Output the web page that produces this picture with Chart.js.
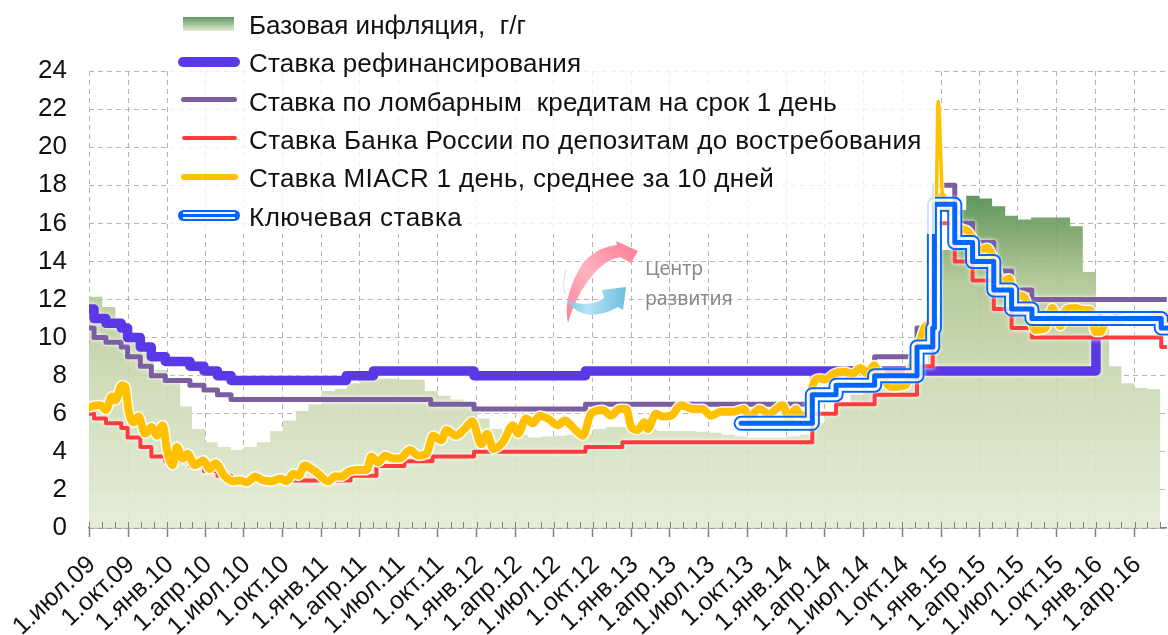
<!DOCTYPE html>
<html lang="ru"><head><meta charset="utf-8">
<script src="https://cdn.jsdelivr.net/npm/chart.js@4"></script>
<style>
html,body{margin:0;padding:0;background:#fff;width:1168px;height:635px;overflow:hidden}
#wrap{position:relative;width:1168px;height:635px;font-family:"Liberation Sans",Arial,sans-serif}
canvas#c{position:absolute;left:0;top:0}
#legend{position:absolute;left:170px;top:8px;width:765px;height:226px;background:rgba(255,255,255,.8)}
.t{position:absolute;left:79px;font-size:26px;letter-spacing:.33px;line-height:26px;height:26px;color:#111;white-space:pre}
.s{position:absolute;border-radius:6px}
#logo{position:absolute;left:0;top:0}
.lg{position:absolute;left:645px;font-family:"Noto Sans",sans-serif;font-size:19.5px;line-height:24px;color:#8a8a8a}
</style></head><body>
<div id="wrap">
<canvas id="c" width="1168" height="635"></canvas>
<svg id="logo" width="1168" height="635">
 <defs><linearGradient id="pk" x1="0" y1="1" x2="1" y2="0"><stop offset="0" stop-color="#ff7f96"/><stop offset=".45" stop-color="#ffb3c0"/><stop offset="1" stop-color="#ff7a92"/></linearGradient>
 <linearGradient id="bl" x1="0" y1="0" x2="1" y2="0"><stop offset="0" stop-color="#7cc8e2"/><stop offset=".35" stop-color="#b5e3f2"/><stop offset="1" stop-color="#6fbfde"/></linearGradient></defs>
 <path d="M568 323 Q562 296 583 263 Q597 247 617 245 L616 241 L638 251 L631 263 L620 257 Q604 260 592 276 Q577 293 568 323Z" fill="url(#pk)"/>
 <path d="M567 301 Q590 308 604 298 L602 290 L626 287 L623 310 L618 307 Q604 315 590 315 Q575 313 567 301Z" fill="url(#bl)"/>
 <path d="M566 270 Q562 282 565 294" fill="none" stroke="#bfe3f0" stroke-width="1"/>
</svg>
<div class="lg" style="top:256px">Центр</div>
<div class="lg" style="top:286px">развития</div>
<div id="legend">
 <div class="s" style="left:13px;top:9px;width:51px;height:14px;border-radius:0;background:linear-gradient(#5f9660,#e2ebd4)"></div>
 <div class="t" style="top:4px;letter-spacing:0">Базовая инфляция,  г/г</div>
 <div class="s" style="left:8px;top:49px;width:62px;height:10px;background:#5a38e6"></div>
 <div class="t" style="top:42px;letter-spacing:.2px">Ставка рефинансирования</div>
 <div class="s" style="left:11px;top:89px;width:56px;height:5px;background:#7b5ea0"></div>
 <div class="t" style="top:81px;letter-spacing:.17px">Ставка по ломбарным  кредитам на срок 1 день</div>
 <div class="s" style="left:12px;top:128px;width:55px;height:4px;background:#ff3b3b"></div>
 <div class="t" style="top:119px;letter-spacing:.37px">Ставка Банка России по депозитам до востребования</div>
 <div class="s" style="left:11px;top:166px;width:57px;height:6px;background:#ffc000"></div>
 <div class="t" style="top:157px">Ставка MIACR 1 день, среднее за 10 дней</div>
 <div class="s" style="left:8px;top:202px;width:62px;height:11px;background:#0066ff"></div>
 <div class="s" style="left:13px;top:204px;width:52px;height:2px;border-radius:0;background:#e8f2ff"></div>
 <div class="s" style="left:13px;top:209px;width:52px;height:2px;border-radius:0;background:#e8f2ff"></div>
 <div class="t" style="top:196px;letter-spacing:.5px">Ключевая ставка</div>
</div>
</div>
<script>
// ---- data ----
const quarterDates = ['2009-07-01','2009-10-01','2010-01-01','2010-04-01','2010-07-01','2010-10-01','2011-01-01','2011-04-01','2011-07-01','2011-10-01','2012-01-01','2012-04-01','2012-07-01','2012-10-01','2013-01-01','2013-04-01','2013-07-01','2013-10-01','2014-01-01','2014-04-01','2014-07-01','2014-10-01','2015-01-01','2015-04-01','2015-07-01','2015-10-01','2016-01-01','2016-04-01'];
const quarterLabels = ['1.июл.09','1.окт.09','1.янв.10','1.апр.10','1.июл.10','1.окт.10','1.янв.11','1.апр.11','1.июл.11','1.окт.11','1.янв.12','1.апр.12','1.июл.12','1.окт.12','1.янв.13','1.апр.13','1.июл.13','1.окт.13','1.янв.14','1.апр.14','1.июл.14','1.окт.14','1.янв.15','1.апр.15','1.июл.15','1.окт.15','1.янв.16','1.апр.16'];
const inflationStart = '2009-07-01';
const inflationMonthly = [12.15,11.6,10.5,9.9,9.3,8.3,7.8,6.4,5.2,4.5,4.25,4.1,4.25,4.5,5.1,5.65,6.15,6.5,7.2,7.3,7.6,7.8,7.85,7.85,7.8,7.8,7.2,6.95,6.75,6.6,5.75,5.2,4.9,4.9,4.75,4.8,4.85,4.9,4.95,5.2,5.3,5.3,5.3,5.2,5.1,5.1,5.1,5.05,5.0,4.9,4.8,4.75,4.75,4.75,4.8,4.9,5.5,6.0,6.5,7.0,7.2,7.3,7.4,7.6,8.3,11.2,14.6,16.7,17.45,17.3,16.9,16.4,16.2,16.3,16.3,16.3,15.85,13.45,10.5,8.5,7.6,7.35,7.3];

const refiDates = ['2009-07-01','2009-07-13','2009-08-10','2009-09-15','2009-09-30','2009-10-30','2009-11-25','2009-12-28','2010-02-24','2010-03-29','2010-04-30','2010-06-01','2011-02-28','2011-05-03','2011-12-26','2012-09-14','2016-01-01','2016-06-18'];
const refiValues = [11.5,11,10.75,10.5,10,9.5,9,8.75,8.5,8.25,8,7.75,8,8.25,8,8.25,11,11];

const lombardDates = ['2009-07-01','2009-07-13','2009-08-10','2009-09-15','2009-09-30','2009-10-30','2009-11-25','2009-12-28','2010-02-24','2010-03-29','2010-04-30','2010-06-01','2011-09-15','2011-12-26','2012-09-14','2014-03-03','2014-04-28','2014-07-28','2014-11-05','2014-12-12','2014-12-16','2015-02-02','2015-03-16','2015-05-05','2015-06-16','2015-08-03','2016-06-18'];
const lombardValues = [10.5,10,9.75,9.5,9,8.5,8,7.75,7.5,7.25,7,6.75,6.5,6.25,6.5,8,8.3,9,10.5,11.5,18,16,15,13.5,12.5,12,12];

const depositDates = ['2009-07-01','2009-07-13','2009-08-10','2009-09-15','2009-09-30','2009-10-30','2009-11-25','2009-12-28','2010-02-24','2010-03-29','2010-04-30','2010-06-01','2011-03-10','2011-05-10','2011-07-15','2011-09-19','2011-12-26','2012-09-14','2012-12-10','2014-03-03','2014-04-28','2014-07-28','2014-11-05','2014-12-12','2014-12-16','2015-02-02','2015-03-16','2015-05-05','2015-06-16','2015-08-03','2016-06-03','2016-06-18'];
const depositValues = [6,5.75,5.5,5.25,4.75,4.25,3.75,3.5,3.25,3,2.75,2.5,2.75,3.25,3.5,3.75,4,4.25,4.5,6,6.5,7,8.5,9.5,16,14,13,11.5,10.5,10,9.5,9.5];

const keyDates = ['2013-09-16','2014-03-03','2014-04-28','2014-07-28','2014-11-05','2014-12-12','2014-12-16','2015-02-02','2015-03-16','2015-05-05','2015-06-16','2015-08-03','2016-06-03','2016-06-18'];
const keyValues = [5.5,7,7.5,8,9.5,10.5,17,15,14,12.5,11.5,11,10.5,10.5];

const miacrDayOffsets = [3,19,27,40,54,62,78,86,93,105,117,132,148,160,174,184,197,207,221,232,250,270,284,298,321,341,356,372,392,411,431,451,466,482,494,509,525,541,564,580,596,611,631,655,666,682,698,717,733,757,776,796,812,831,843,866,886,904,925,939,954,976,1000,1012,1031,1047,1063,1082,1106,1122,1145,1165,1184,1212,1231,1251,1267,1279,1294,1310,1318,1337,1353,1373,1396,1424,1447,1467,1491,1518,1545,1557,1581,1604,1636,1651,1667,1675,1687,1699,1706,1722,1738,1757,1781,1801,1820,1836,1852,1864,1895,1926,1942,1950,1962,1973,1985,1997,2003,2013,2020,2036,2052,2072,2087,2099,2119,2134,2154,2170,2181,2205,2217,2232,2256,2272,2291,2303,2327,2346,2362,2374,2386,2401,2421,2452,2491,2515,2539];
const miacrValues = [6.35,6.45,6.45,6.2,6.9,6.7,7.5,7.4,6.2,5.55,5.85,4.95,5.3,4.85,5.4,4.1,3.3,4.25,3.65,3.9,3.3,3.55,3.1,3.4,2.7,2.45,2.5,2.4,2.7,2.5,2.45,2.6,2.45,2.85,2.75,3.3,3.1,2.85,2.45,2.7,2.7,2.95,3.05,3.05,3.75,3.45,3.8,3.65,3.65,4.1,3.8,3.9,4.85,4.6,5.15,4.85,5.2,5.6,4.4,4.95,4.15,4.5,5.4,4.95,5.75,5.5,5.9,5.75,5.4,5.65,5.2,4.85,6.0,6.2,5.9,6.25,6.25,5.3,5.15,5.55,5.2,6.0,5.85,5.9,6.45,6.25,6.25,5.9,6.1,6.1,6.25,5.85,6.25,6.0,6.45,5.75,6.25,6.0,5.9,6.0,7.4,7.85,7.8,8.1,8.2,8.1,8.4,8.1,8.55,8.1,7.4,7.5,8.6,9.4,9.95,10.6,10.9,14.8,22.4,17.4,16.9,16.5,15.8,15.6,15.1,14.6,14.7,14.1,12.85,13.1,12.3,12.15,11.45,10.4,10.5,11.55,10.6,11.45,11.55,11.45,11.45,10.3,10.3,11.0,10.85,11.0,11.0,11.1,11.1];
const yTicksMax = 24, yTickStep = 2;

// ---- helpers ----
const base = Date.parse(inflationStart);
const dayOf = s => Math.round((Date.parse(s) - base) / 864e5);
const pts = (ds, vs) => ds.map((d, i) => ({x: dayOf(d), y: vs[i]}));
const addMonths = n => { const y = 2009 + Math.floor((6 + n) / 12), m = (6 + n) % 12;
  return `${y}-${String(m + 1).padStart(2, '0')}-01`; };
const inflationPts = inflationMonthly.map((v, i) => ({x: dayOf(addMonths(i)), y: v}));
inflationPts.push({x: dayOf(addMonths(inflationMonthly.length)), y: inflationMonthly[inflationMonthly.length - 1]});
const quarterDays = quarterDates.map(dayOf);
const monthDays = []; for (let i = 0; i < 84; i++) monthDays.push(dayOf(addMonths(i)));

let grad = null;
function areaFill(ctx) {
  const ch = ctx.chart; if (!ch.chartArea) return '#cfdbb8';
  if (!grad) {
    const y = ch.scales.y;
    grad = ch.ctx.createLinearGradient(0, y.getPixelForValue(17.5), 0, y.getPixelForValue(0));
    grad.addColorStop(0, '#4f8b4ee8'); grad.addColorStop(.13, '#7fa76be8'); grad.addColorStop(.26, '#aec592e8');
    grad.addColorStop(.55, '#cbd8b2e8'); grad.addColorStop(1, '#e3ecd5e8');
  }
  return grad;
}
const line = (data, color, width, order, extra) => Object.assign({data, borderColor: color, borderWidth: width, order,
  pointRadius: 0, stepped: 'before', fill: false, borderCapStyle: 'round', borderJoinStyle: 'round', halo: true}, extra || {});
const keyPts = pts(keyDates, keyValues);
const miacrPts = miacrDayOffsets.map((d, i) => ({x: d, y: miacrValues[i]}));
const isSpike = c => c.p0.parsed.y > 18 || c.p1.parsed.y > 18;

let off = null;
const haloPlugin = {
  id: 'halo',
  beforeDatasetDraw(chart, args) {
    const ds = chart.data.datasets[args.index];
    if (ds.keyPart) {
      if (ds.keyPart === 'outer') { off = document.createElement('canvas'); off.width = chart.width; off.height = chart.height; }
      const c = off.getContext('2d');
      c.globalCompositeOperation = ds.keyComp || 'source-over';
      args.meta.dataset.draw(c, chart.chartArea);
      if (ds.keyPart === 'center') {
        const m = chart.ctx; m.save(); m.shadowColor = 'rgba(255,255,255,.9)'; m.shadowBlur = 3;
        m.drawImage(off, 0, 0); m.restore();
      }
      return false;
    }
    if (ds.halo) { const m = chart.ctx; m.save(); m.shadowColor = '#fff'; m.shadowBlur = 4; }
  },
  afterDatasetDraw(chart, args) {
    const ds = chart.data.datasets[args.index];
    if (ds.halo && !ds.keyPart) chart.ctx.restore();
  },
  afterDatasetsDraw(chart) {
    const m = chart.ctx, x = chart.scales.x, b = chart.chartArea.bottom;
    m.save(); m.strokeStyle = '#808080'; m.lineWidth = 1; m.beginPath();
    monthDays.forEach(d => { const p = Math.round(x.getPixelForValue(d)) + .5; m.moveTo(p, b); m.lineTo(p, b - 6); });
    m.stroke(); m.restore();
  }
};

new Chart(document.getElementById('c'), {
  type: 'line',
  data: { datasets: [
    {data: inflationPts, stepped: 'before', pointRadius: 0, borderWidth: 0, fill: 'origin', backgroundColor: areaFill, order: 20},
    line(pts(lombardDates, lombardValues), '#7b5ea0', 5, 16),
    line(pts(refiDates, refiValues), '#5a38e6', 9.5, 15),
    line(pts(depositDates, depositValues), '#ff3b3b', 4, 13),
    line(miacrPts, 'rgba(255,255,255,.92)', 11, 12, {stepped: false, cubicInterpolationMode: 'monotone', halo: false,
      segment: {borderWidth: c => isSpike(c) ? 5 : undefined}}),
    line(miacrPts, '#ffc000', 8, 11, {stepped: false, cubicInterpolationMode: 'monotone', halo: false,
      segment: {borderWidth: c => isSpike(c) ? 3.5 : undefined}}),
    line(keyPts, '#0066ff', 15, 4, {keyPart: 'outer'}),
    line(keyPts, '#000', 11, 3, {keyPart: 'gap', keyComp: 'destination-out'}),
    line(keyPts, 'rgba(255,255,255,.5)', 11, 2, {keyPart: 'veil'}),
    line(keyPts, '#0066ff', 5, 1, {keyPart: 'center'})
  ]},
  options: {
    responsive: false, animation: false, events: [],
    layout: {padding: {top: 71, left: 0, right: 0, bottom: 0}},
    plugins: {legend: {display: false}, tooltip: {enabled: false}},
    scales: {
      x: { type: 'linear', min: 0, max: 2542,
        afterBuildTicks: s => { s.ticks = quarterDays.map(v => ({value: v})); },
        afterFit: s => { s.height = 107; },
        border: {display: true, color: '#808080', width: 1.5, dash: [5, 4]},
        grid: {color: '#b4b4b4', lineWidth: 1, tickLength: 9, tickColor: '#808080', tickBorderDash: [], tickWidth: 1.5},
        ticks: {autoSkip: false, minRotation: 43, maxRotation: 43, padding: 13, labelOffset: 3, color: '#111',
          font: {family: '"Liberation Sans"', size: 25},
          callback: v => quarterLabels[quarterDays.indexOf(v)] || ''}
      },
      y: { min: 0, max: yTicksMax,
        afterFit: s => { s.width = 89; },
        border: {display: false, dash: [5, 4]},
        grid: {color: '#b4b4b4', lineWidth: 1, tickLength: 0},
        ticks: {stepSize: yTickStep, padding: 22, color: '#111', font: {family: '"Liberation Sans"', size: 26}}
      }
    }
  },
  plugins: [haloPlugin]
});
</script>
</body></html>
